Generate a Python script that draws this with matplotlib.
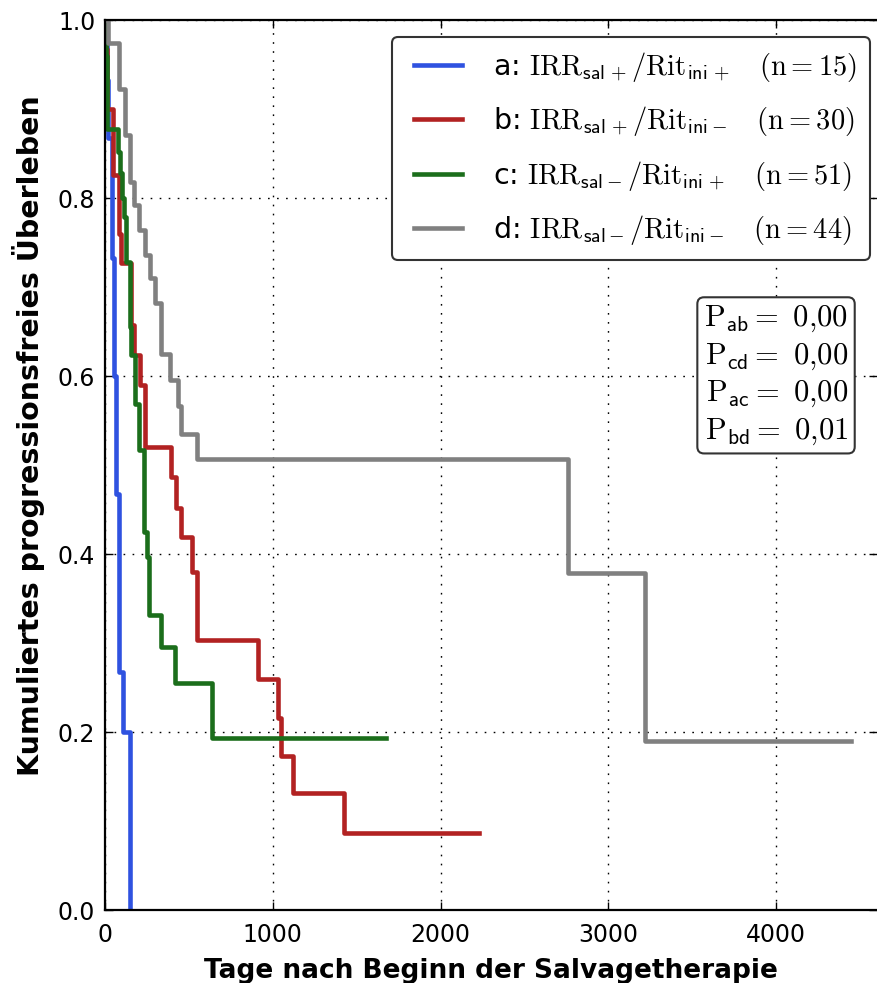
import matplotlib
matplotlib.use('Agg')
import matplotlib.pyplot as plt
from matplotlib.lines import Line2D
from matplotlib.legend_handler import HandlerLine2D

plt.rcParams['mathtext.fontset'] = 'cm'
plt.rcParams['font.family'] = ['DejaVu Sans']

# ---- data (days, cumulative progression-free survival) ----
t_a = [0, 10, 20, 42, 54, 67, 86, 107, 148]
s_a = [1.0, 0.933, 0.867, 0.733, 0.6, 0.467, 0.267, 0.2, 0.0]

t_b = [0, 5, 12, 48, 81, 97, 157, 173, 208, 236, 393, 423, 452, 516, 546,
       909, 1033, 1051, 1121, 1425, 2226]
s_b = [1.0, 0.967, 0.9, 0.826, 0.76, 0.727, 0.657, 0.624, 0.59, 0.52, 0.486,
       0.452, 0.419, 0.38, 0.303, 0.26, 0.216, 0.173, 0.131, 0.087, 0.087]

t_c = [0, 4, 12, 75, 89, 99, 115, 127, 146, 155, 178, 204, 234, 253, 264,
       333, 417, 635, 1673]
s_c = [1.0, 0.96, 0.878, 0.852, 0.828, 0.8, 0.779, 0.728, 0.655, 0.624, 0.569,
       0.517, 0.425, 0.397, 0.331, 0.296, 0.255, 0.193, 0.193]

t_d = [0, 20, 83, 119, 149, 174, 204, 238, 268, 298, 333, 387, 432, 452, 546,
       2756, 3220, 4445]
s_d = [1.0, 0.974, 0.922, 0.871, 0.818, 0.792, 0.764, 0.736, 0.71, 0.682,
       0.625, 0.596, 0.566, 0.535, 0.507, 0.379, 0.19, 0.19]

labels = [
    r'a: $\mathrm{IRR}_{\mathsf{sal}\,+}/\mathrm{Rit}_{\mathsf{ini}\,+}\quad(\mathrm{n}=15)$',
    r'b: $\mathrm{IRR}_{\mathsf{sal}\,+}/\mathrm{Rit}_{\mathsf{ini}-}\quad(\mathrm{n}=30)$',
    r'c: $\mathrm{IRR}_{\mathsf{sal}-}/\mathrm{Rit}_{\mathsf{ini}\,+}\quad(\mathrm{n}=51)$',
    r'd: $\mathrm{IRR}_{\mathsf{sal}-}/\mathrm{Rit}_{\mathsf{ini}-}\quad(\mathrm{n}=44)$',
]
colors = ['#2f52e0', '#b22222', '#1b6e1b', '#808080']

p_lines = [r'$\mathrm{P}_{\mathsf{ab}} =\ 0{,}00$',
           r'$\mathrm{P}_{\mathsf{cd}} =\ 0{,}00$',
           r'$\mathrm{P}_{\mathsf{ac}} =\ 0{,}00$',
           r'$\mathrm{P}_{\mathsf{bd}} =\ 0{,}01$']

xticks = [0, 1000, 2000, 3000, 4000]
yticks = [0.0, 0.2, 0.4, 0.6, 0.8, 1.0]

fig = plt.figure(figsize=(8.77, 9.83), dpi=100)
ax = fig.add_axes([105 / 877, 73 / 983, 772 / 877, 890 / 983])

series = [(t_a, s_a), (t_b, s_b), (t_c, s_c), (t_d, s_d)]
for (t, s), c, lab in zip(series, colors, labels):
    ax.step(t, s, where='post', color=c, lw=3.3, label=lab)

ax.set_xlim(0, 4600)
ax.set_ylim(0, 1.0)
ax.set_xticks(xticks)
ax.set_yticks(yticks)
ax.set_yticklabels([f'{v:.1f}' for v in yticks])
ax.tick_params(axis='both', direction='in', length=6, width=1, top=True,
               right=True, labelsize=17)
ax.tick_params(axis='x', pad=9)
ax.tick_params(axis='y', pad=7)
ax.grid(True, color='black', linestyle=(0, (1.2, 5.3)), linewidth=1)
for sp in ['left', 'bottom', 'top']:
    ax.spines[sp].set_linewidth(1.6)
ax.spines['right'].set_visible(False)

ax.set_xlabel('Tage nach Beginn der Salvagetherapie', fontsize=19,
              fontweight='bold', labelpad=8)
ax.set_ylabel('Kumuliertes progressionsfreies Überleben', fontsize=20.5,
              fontweight='bold')
ax.yaxis.set_label_coords((45 - 105) / 772, (910 - 436) / 890)

leg = ax.legend(loc='upper right', bbox_to_anchor=((870 - 105) / 772, (910 - 37) / 890),
                borderaxespad=0, fontsize=20.5, handlelength=2.0,
                handletextpad=1.1, labelspacing=0.72, borderpad=0.45,
                fancybox=True, framealpha=1, edgecolor='#333333',
                handler_map={Line2D: HandlerLine2D(xpad=0.3)})
leg.get_frame().set_linewidth(1.5)

ax.text((848 - 105) / 772, (910 - 304) / 890, '\n'.join(p_lines),
        transform=ax.transAxes, ha='right', va='top', fontsize=22,
        linespacing=1.27,
        bbox=dict(boxstyle='round,pad=0.22', facecolor='white',
                  edgecolor='#333333', linewidth=1.5))

fig.savefig('out.png', dpi=100)
